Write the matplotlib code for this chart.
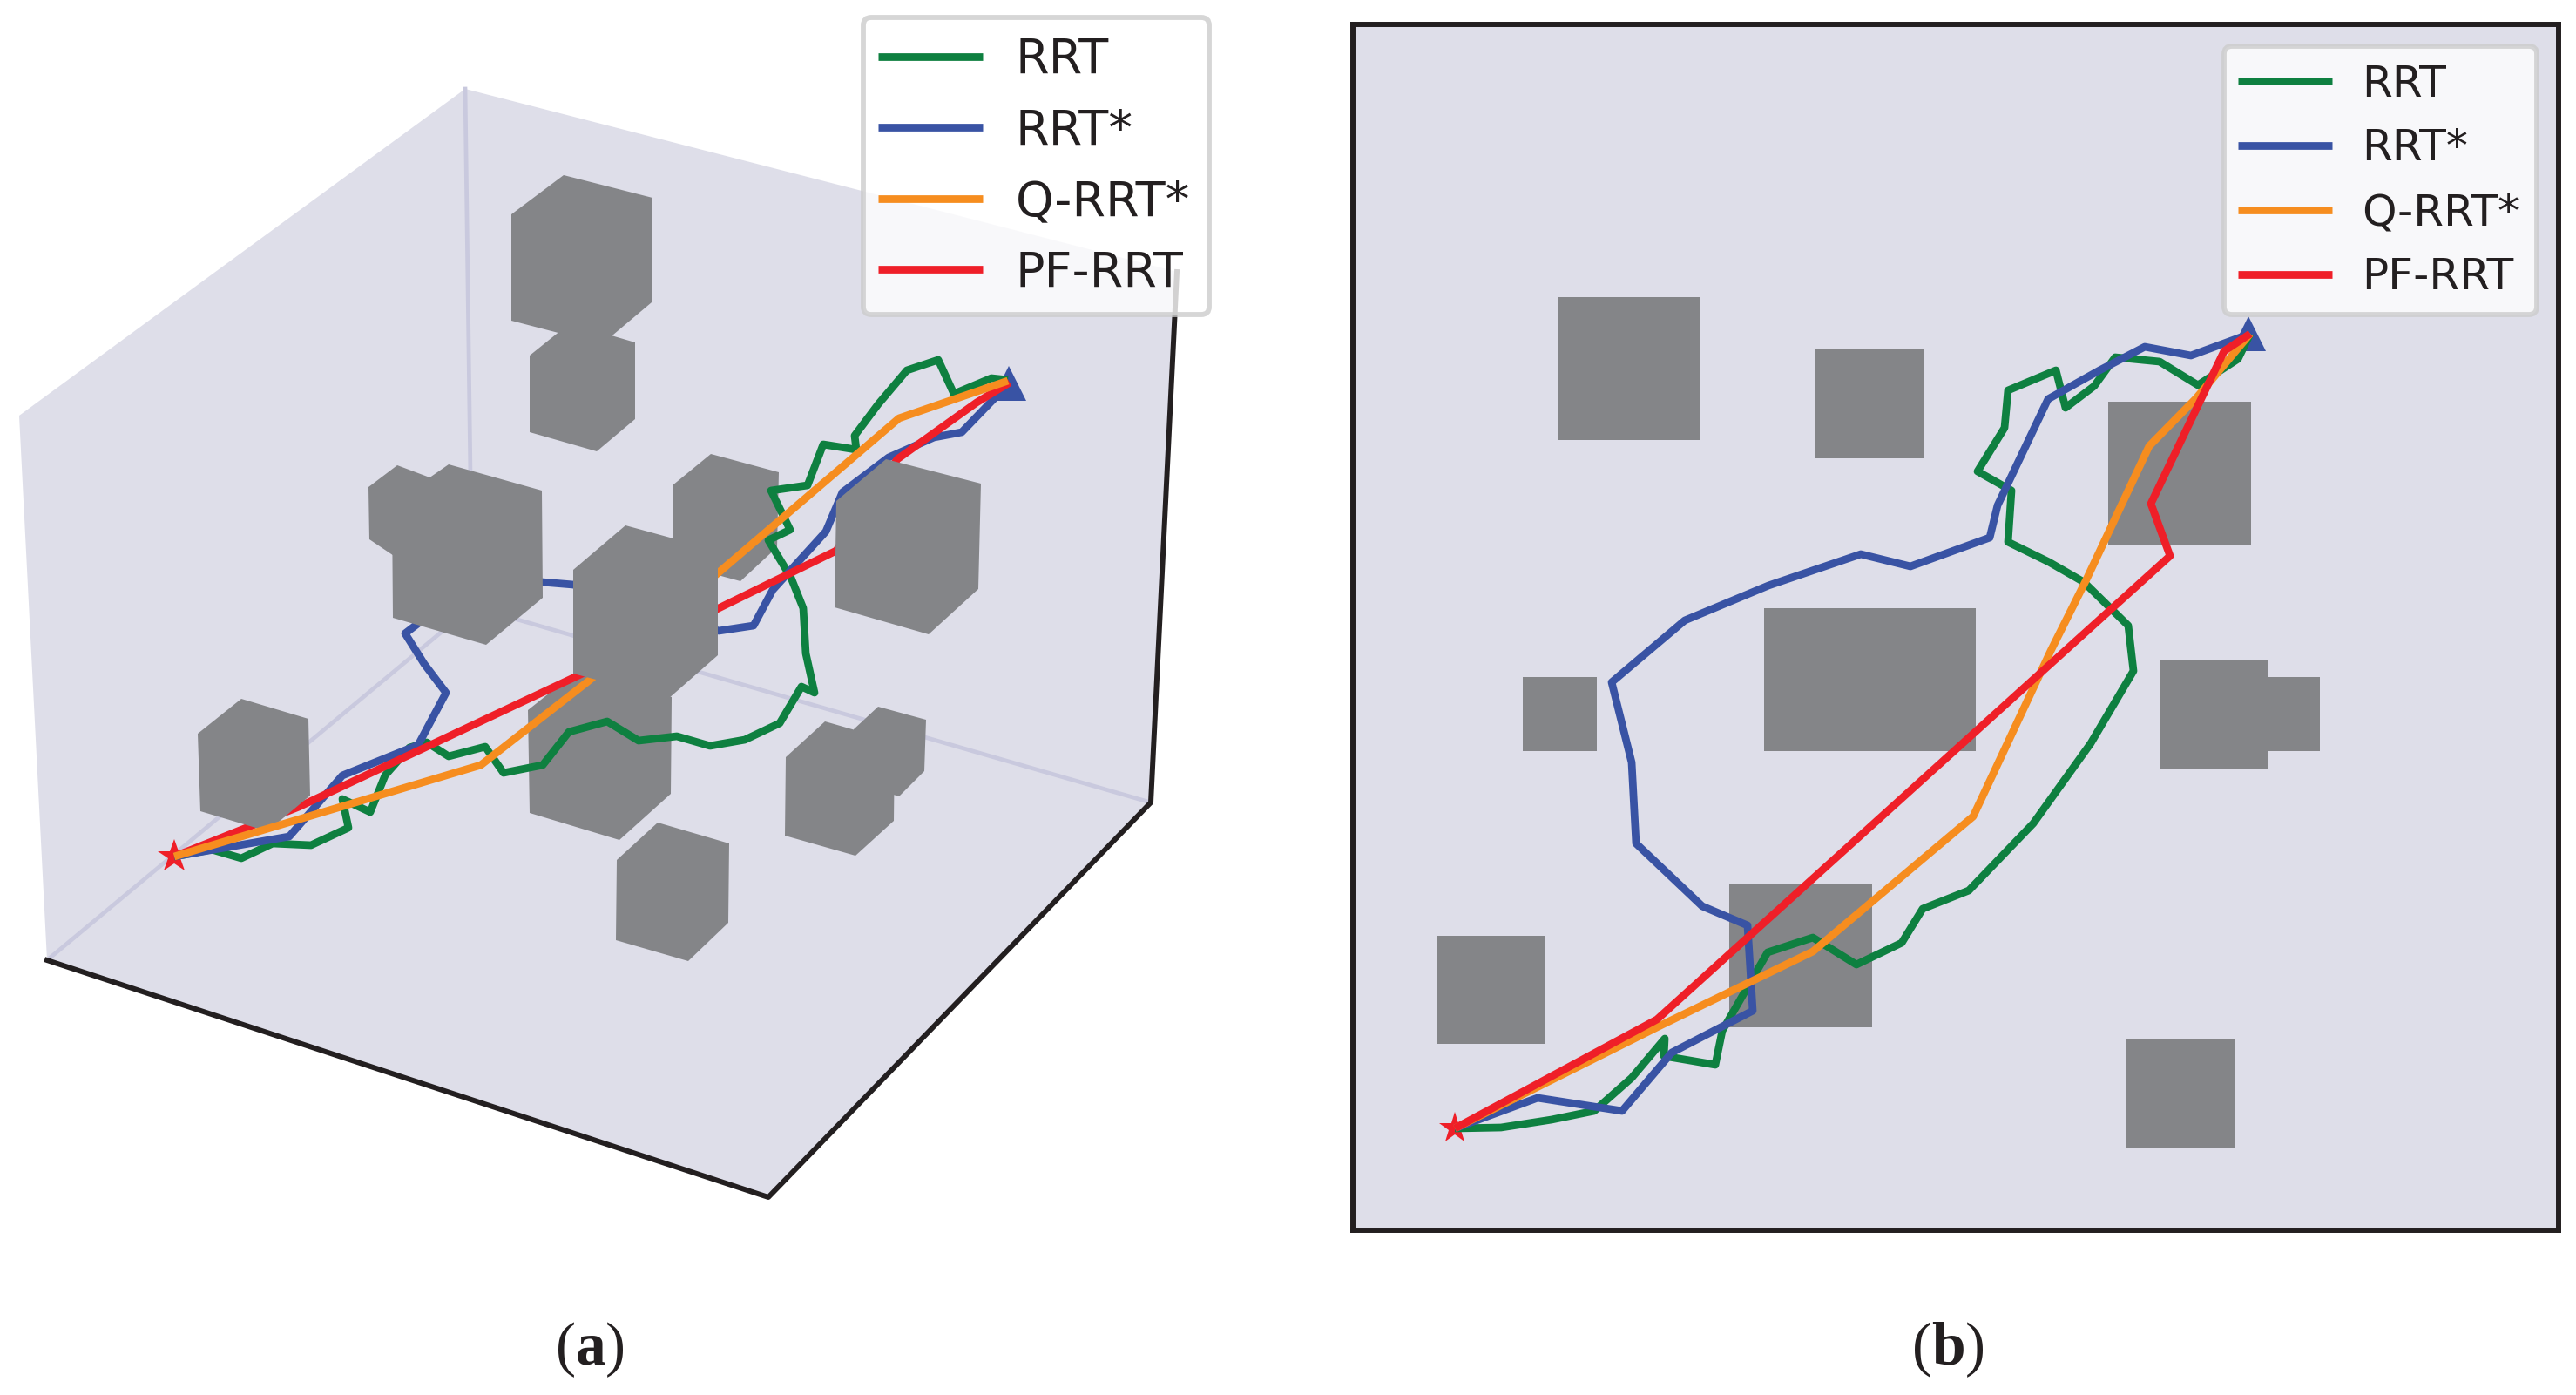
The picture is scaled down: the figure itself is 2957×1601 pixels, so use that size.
# two views of the planned paths, values read in picture pixels
import matplotlib.pyplot as plt
from matplotlib.patches import FancyBboxPatch, Rectangle

W, H = 2957, 1601

methods = ["RRT", "RRT*", "Q-RRT*", "PF-RRT"]
colors = {"RRT": "#0E8040", "RRT*": "#3953A4", "Q-RRT*": "#F68D1F", "PF-RRT": "#EF1F28"}

# --- (a) perspective view ---
walls_3d = [(22, 477), (534, 102), (1351, 312), (1321, 921), (882, 1374), (54, 1102)]
edge_front = [(54, 1102), (882, 1374), (1321, 921), (1351, 312)]
grid_vertical = [(534, 102), (542, 696)]
grid_left = [(54, 1102), (542, 696)]
grid_right = [(542, 696), (1321, 921)]

# obstacle outlines behind every path
cubes_back = [
    [(647, 201), (749, 227), (748, 347), (691, 395), (587, 368), (587, 246)],
    [(654, 371), (729, 393), (729, 481), (685, 518), (608, 496), (608, 408)],
    [(456, 534), (520, 558), (520, 620), (485, 660), (424, 619), (423, 559)],
    [(816, 521), (894, 542), (892, 628), (850, 667), (772, 646), (772, 557)],
    [(606, 815), (660, 772), (771, 800), (770, 911), (711, 964), (608, 933)],
    [(947, 828), (1027, 851), (1026, 942), (982, 982), (901, 959), (902, 869)],
    [(1008, 811), (1063, 826), (1061, 885), (1032, 914), (980, 898), (980, 837)],
    [(755, 944), (837, 968), (836, 1059), (790, 1103), (707, 1079), (708, 987)],
]
# these hide the blue and red paths
cubes_mid = [
    [(515, 533), (622, 563), (623, 686), (558, 740), (451, 709), (450, 578)],
    [(277, 802), (354, 825), (356, 913), (307, 954), (230, 931), (227, 842)],
    [(1017, 527), (1126, 555), (1123, 676), (1066, 728), (958, 697), (960, 575)],
]
# this one hides the orange path too
cube_front = [(718, 603), (824, 632), (824, 752), (767, 802), (658, 773), (658, 654)]

start_3d = (200, 983)
goal_3d = (1158, 440)

rrt_3d = [
    (200, 983), (243, 975), (277, 985), (313, 968), (357, 970), (400, 950), (393, 917),
    (425, 932), (442, 890), (470, 858), (490, 852), (515, 868), (557, 857), (578, 887),
    (623, 878), (653, 840), (697, 828), (733, 850), (777, 845), (815, 856), (855, 849),
    (895, 830), (920, 788), (935, 795), (925, 750), (922, 698), (908, 663), (882, 620),
    (907, 608), (885, 563), (927, 557), (945, 510), (983, 516), (981, 500), (1008, 464),
    (1041, 425), (1077, 413), (1095, 452), (1138, 434), (1157, 436),
]
rrt_star_3d = [
    (200, 983), (332, 960), (393, 890), (480, 855), (512, 795), (487, 762), (465, 727),
    (482, 714), (622, 668), (658, 671), (825, 724), (865, 718), (887, 677), (948, 610),
    (967, 565), (1020, 525), (1072, 502), (1104, 496), (1159, 439),
]
q_rrt_3d = [(200, 983), (552, 878), (675, 782), (825, 657), (1032, 480), (1157, 437)]
pf_rrt_3d = [
    (200, 983), (343, 926), (658, 778), (825, 698), (960, 632), (1030, 527), (1121, 462),
    (1159, 439),
]

# --- (b) top view ---
# x0, x1, y0, y1
obstacles_top = [
    (1788, 1952, 341, 505),
    (2084, 2209, 401, 526),
    (2420, 2584, 461, 625),
    (2025, 2268, 698, 862),
    (1748, 1833, 777, 862),
    (2479, 2604, 757, 882),
    (2604, 2663, 777, 862),
    (1985, 2149, 1014, 1179),
    (1649, 1774, 1074, 1198),
    (2440, 2565, 1192, 1317),
]
start_top = (1670, 1295)
goal_top = (2581, 383)

rrt_top = [
    (1670, 1295), (1723, 1294), (1781, 1285), (1830, 1275), (1873, 1237), (1911, 1192),
    (1910, 1212), (1969, 1222), (1977, 1183), (2029, 1093), (2081, 1076), (2131, 1107),
    (2183, 1082), (2207, 1043), (2260, 1022), (2334, 945), (2400, 853), (2449, 770),
    (2443, 718), (2392, 668), (2352, 645), (2305, 622), (2309, 563), (2270, 541),
    (2301, 491), (2305, 448), (2360, 425), (2371, 468), (2404, 443), (2428, 410),
    (2479, 415), (2523, 442), (2569, 412), (2583, 383),
]
rrt_star_top = [
    (1670, 1295), (1765, 1260), (1862, 1275), (1919, 1208), (2012, 1160), (2006, 1062),
    (1954, 1040), (1878, 968), (1873, 875), (1850, 783), (1934, 712), (2030, 672),
    (2136, 636), (2193, 650), (2284, 617), (2293, 580), (2351, 458), (2410, 425),
    (2462, 398), (2515, 408), (2583, 383),
]
q_rrt_top = [
    (1670, 1295), (1906, 1177), (2081, 1092), (2265, 937), (2354, 747), (2395, 665),
    (2467, 512), (2521, 457), (2583, 383),
]
pf_rrt_top = [
    (1670, 1295), (1902, 1170), (2491, 638), (2469, 578), (2553, 403), (2583, 383),
]

paths_top = dict(zip(methods, [rrt_top, rrt_star_top, q_rrt_top, pf_rrt_top]))

WALL = "#DEDEE9"
GREY = "#848588"
GRID = "#C9C9DE"
INK = "#231F20"
LW = 6.3

plt.rcParams["mathtext.fontset"] = "custom"
plt.rcParams["mathtext.bf"] = "Liberation Serif:bold"
plt.rcParams["mathtext.rm"] = "Liberation Serif"

fig = plt.figure(figsize=(W / 100, H / 100), dpi=100)


def pixel_axes(x0, x1, y0, y1):
    a = fig.add_axes([x0 / W, 1 - y1 / H, (x1 - x0) / W, (y1 - y0) / H])
    a.set_xlim(x0, x1)
    a.set_ylim(y1, y0)
    a.set_xticks([])
    a.set_yticks([])
    return a


def draw_poly(a, pts, z):
    a.fill([p[0] for p in pts], [p[1] for p in pts], color=GREY, lw=0, zorder=z)


def draw_path(a, pts, name, z):
    return a.plot(
        [p[0] for p in pts],
        [p[1] for p in pts],
        color=colors[name],
        lw=LW,
        solid_capstyle="butt",
        label=name,
        zorder=z,
    )[0]


def add_legend(a, box, fontsize, handles, spacing, shift):
    # frame drawn by hand, the original has more room under the last row
    x0, x1, y0, y1 = box
    a.add_patch(
        FancyBboxPatch(
            (x0, y0),
            x1 - x0,
            y1 - y0,
            boxstyle="round,pad=0,rounding_size=9",
            facecolor=(1, 1, 1, 0.8),
            edgecolor=(0.8, 0.8, 0.8, 0.8),
            lw=4.2,
            zorder=49,
        )
    )
    leg = a.legend(
        handles,
        methods,
        loc="upper left",
        bbox_to_anchor=(x0, y0 + shift),
        bbox_transform=a.transData,
        borderaxespad=0,
        fontsize=fontsize,
        handlelength=2.16,
        handletextpad=0.67,
        labelspacing=spacing,
        borderpad=0.31,
        frameon=False,
        labelcolor=INK,
    )
    leg.set_zorder(50)
    return leg


# panel (a)
ax = pixel_axes(0, 1500, 0, 1420)
ax.axis("off")
ax.fill([p[0] for p in walls_3d], [p[1] for p in walls_3d], color=WALL, lw=0, zorder=1)
for seg in (grid_vertical, grid_left, grid_right):
    ax.plot([p[0] for p in seg], [p[1] for p in seg], color=GRID, lw=3.4, zorder=2)
ax.plot(
    [p[0] for p in edge_front],
    [p[1] for p in edge_front],
    color=INK,
    lw=4.3,
    solid_capstyle="projecting",
    zorder=3,
)

for cube in cubes_back:
    draw_poly(ax, cube, 4)
ax.plot(*goal_3d, marker="^", ms=29, mew=0, color=colors["RRT*"], zorder=5)
ax.plot(*start_3d, marker="*", ms=29, mew=0, color=colors["PF-RRT"], zorder=5)
lines_a = {
    "RRT": draw_path(ax, rrt_3d, "RRT", 6),
    "RRT*": draw_path(ax, rrt_star_3d, "RRT*", 7),
    "PF-RRT": draw_path(ax, pf_rrt_3d, "PF-RRT", 8),
}
for cube in cubes_mid:
    draw_poly(ax, cube, 9)
lines_a["Q-RRT*"] = draw_path(ax, q_rrt_3d, "Q-RRT*", 10)
draw_poly(ax, cube_front, 11)

add_legend(ax, (991, 1388, 20, 361), 40, [lines_a[m] for m in methods], 0.495, 5)

# panel (b)
bx = pixel_axes(1553, 2937, 28, 1412)
bx.set_facecolor(WALL)
for side in bx.spines.values():
    side.set_linewidth(4.3)
    side.set_edgecolor(INK)

for x0, x1, y0, y1 in obstacles_top:
    bx.add_patch(Rectangle((x0, y0), x1 - x0, y1 - y0, color=GREY, lw=0, zorder=2))
bx.plot(*goal_top, marker="^", ms=29, mew=0, color=colors["RRT*"], zorder=3)
bx.plot(*start_top, marker="*", ms=27, mew=0, color=colors["PF-RRT"], zorder=3)
lines_b = [draw_path(bx, paths_top[m], m, 4 + i) for i, m in enumerate(methods)]

add_legend(bx, (2553, 2912, 53, 361), 36.2, lines_b, 0.515, 4)

# captions
serif = "Liberation Serif"
fig.text(677 / W, 1 - 1566 / H, r"($\mathbf{a}$)", family=serif, fontsize=50,
         color=INK, ha="center", va="baseline")
fig.text(2236 / W, 1 - 1566 / H, r"($\mathbf{b}$)", family=serif, fontsize=50,
         color=INK, ha="center", va="baseline")

fig.savefig("out.png", dpi=100)
